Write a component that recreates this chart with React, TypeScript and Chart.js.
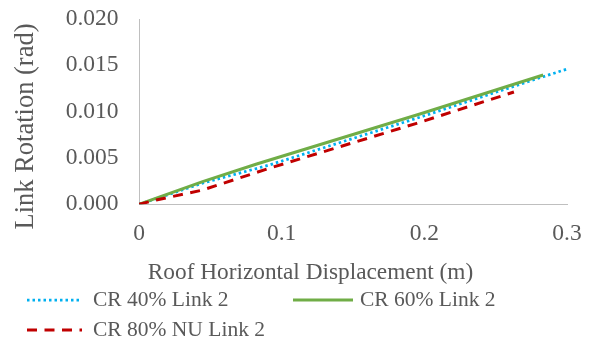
import { useEffect, useRef } from 'react';
import { Chart, registerables } from 'chart.js';

Chart.register(...registerables);

// ---------- data ----------
const xTickValues = [0, 0.1, 0.2, 0.3];
const xTickLabels = ['0', '0.1', '0.2', '0.3'];
const yTickValues = [0, 0.005, 0.01, 0.015, 0.02];
const yTickLabels = ['0.000', '0.005', '0.010', '0.015', '0.020'];

const cr40X = [0, 0.045, 0.0913, 0.1969, 0.2833, 0.3];
const cr40Y = [0, 0.0023, 0.00424, 0.0094, 0.01377, 0.0146];

const cr60X = [0, 0.0446, 0.0825, 0.1969, 0.2833];
const cr60Y = [0, 0.00244, 0.00435, 0.00975, 0.01396];

const cr80X = [0, 0.0121, 0.0446, 0.0913, 0.1946, 0.2628];
const cr80Y = [0, 0.00046, 0.00154, 0.00389, 0.00874, 0.01212];

const seriesNames = ['CR 40% Link 2', 'CR 60% Link 2', 'CR 80% NU Link 2'];
const xTitle = 'Roof Horizontal Displacement (m)';
const yTitle = 'Link Rotation (rad)';

// ---------- styles ----------
const FONT = "'Liberation Serif', 'Times New Roman', serif";
const TEXT = '#595959';
const AXIS = '#BFBFBF';
const COLORS = ['#00B0F0', '#70AD47', '#C00000'];
const DASHES: number[][] = [[2.5, 3], [], [10, 7.5]];
const WIDTHS = [2.75, 3, 3];

const toPoints = (xs: number[], ys: number[]) => xs.map((x, i) => ({ x, y: ys[i] }));

const legendItems = [
  { line: [27, 82], textX: 93, y: 300 },
  { line: [293, 353], textX: 360, y: 300 },
  { line: [27, 82], textX: 93, y: 330 },
];

const overlay = {
  id: 'overlay',
  afterDraw(chart: any) {
    const ctx: CanvasRenderingContext2D = chart.ctx;
    const area = chart.chartArea;
    ctx.save();
    ctx.fillStyle = TEXT;
    ctx.textBaseline = 'middle';
    ctx.textAlign = 'center';
    ctx.font = `23.3px ${FONT}`;
    ctx.fillText(xTitle, area.left + 171.5, area.bottom + 68.3);
    ctx.save();
    ctx.translate(25.6, area.top + 107.5);
    ctx.rotate(-Math.PI / 2);
    ctx.font = `26.5px ${FONT}`;
    ctx.fillText(yTitle, 0, 0);
    ctx.restore();

    ctx.textAlign = 'left';
    ctx.font = `21.5px ${FONT}`;
    legendItems.forEach((it, i) => {
      ctx.save();
      ctx.strokeStyle = COLORS[i];
      ctx.lineWidth = WIDTHS[i];
      ctx.setLineDash(DASHES[i]);
      ctx.lineCap = 'butt';
      ctx.beginPath();
      ctx.moveTo(it.line[0], it.y);
      ctx.lineTo(it.line[1], it.y);
      ctx.stroke();
      ctx.restore();
      ctx.fillText(seriesNames[i], it.textX, it.y);
    });
    ctx.restore();
  },
};

const zeroPad = (s: any) => {
  s.paddingTop = 0;
  s.paddingBottom = 0;
  s.paddingLeft = 0;
  s.paddingRight = 0;
};

export default function App() {
  const ref = useRef<HTMLCanvasElement | null>(null);

  useEffect(() => {
    if (!ref.current) return;
    const datasets = [
      toPoints(cr40X, cr40Y),
      toPoints(cr60X, cr60Y),
      toPoints(cr80X, cr80Y),
    ].map((data, i) => ({
      label: seriesNames[i],
      data,
      borderColor: COLORS[i],
      backgroundColor: COLORS[i],
      borderWidth: WIDTHS[i],
      borderDash: DASHES[i],
      pointRadius: 0,
      tension: 0,
      fill: false,
      order: 3 - i,
    }));

    const chart = new Chart(ref.current, {
      type: 'line',
      data: { datasets },
      plugins: [overlay],
      options: {
        animation: false,
        responsive: false,
        maintainAspectRatio: false,
        events: [],
        layout: { padding: { top: 19, right: 28, bottom: 58, left: 0 } },
        plugins: {
          legend: { display: false },
          tooltip: { enabled: false },
        },
        scales: {
          x: {
            type: 'linear',
            min: 0,
            max: 0.3,
            grid: { display: false, drawTicks: false },
            border: { display: true, color: AXIS, width: 1 },
            afterBuildTicks: (s: any) => {
              s.ticks = xTickValues.map((value) => ({ value }));
            },
            afterFit: (s: any) => {
              s.height = 82.7;
              zeroPad(s);
            },
            ticks: {
              padding: 15,
              color: TEXT,
              font: { family: FONT, size: 23.5 },
              maxRotation: 0,
              autoSkip: false,
              callback: (_v: any, i: number) => xTickLabels[i],
            },
          },
          y: {
            type: 'linear',
            min: 0,
            max: 0.02,
            grid: { display: false, drawTicks: false },
            border: { display: true, color: AXIS, width: 1 },
            afterBuildTicks: (s: any) => {
              s.ticks = yTickValues.map((value) => ({ value }));
            },
            afterFit: (s: any) => {
              s.width = 139;
              zeroPad(s);
            },
            ticks: {
              padding: 20.5,
              color: TEXT,
              font: { family: FONT, size: 23.5 },
              autoSkip: false,
              callback: (_v: any, i: number) => yTickLabels[i],
            },
          },
        },
      } as any,
    });
    return () => chart.destroy();
  }, []);

  return (
    <div style={{ position: 'fixed', left: 0, top: 0, width: 595, height: 345, background: '#fff' }}>
      <canvas ref={ref} width={595} height={345} style={{ display: 'block', width: 595, height: 345 }} />
    </div>
  );
}
